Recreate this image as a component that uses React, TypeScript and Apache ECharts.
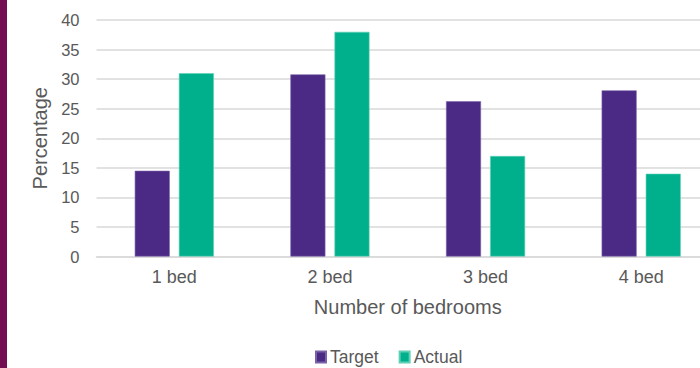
import React, { useEffect, useRef } from "react";
import * as echarts from "echarts";

const categories = ["1 bed", "2 bed", "3 bed", "4 bed"];
const targetValues = [14.5, 30.8, 26.25, 28.1];
const actualValues = [31, 38, 17, 14];
const seriesNames = ["Target", "Actual"];

export default function App() {
  const ref = useRef<HTMLDivElement>(null);
  useEffect(() => {
    if (!ref.current) return;
    const chart = echarts.init(ref.current, undefined, { renderer: "svg" });
    const font = "Liberation Sans, Arial, sans-serif";
    chart.setOption({
      animation: false,
      backgroundColor: "#ffffff",
      textStyle: { fontFamily: font },
      graphic: [
        {
          type: "rect",
          left: 0,
          top: 0,
          shape: { x: 0, y: 0, width: 7, height: 368 },
          style: { fill: "#730c50" },
        },
      ],
      legend: {
        data: seriesNames,
        left: 310,
        top: 346,
        padding: [2, 5, 2, 5],
        itemWidth: 10,
        itemHeight: 11,
        itemGap: 20,
        icon: "rect",
        textStyle: { fontSize: 17.5, color: "#595959", fontFamily: font, padding: [0, 0, 0, -1] },
      },
      grid: { left: 96.5, right: 0, top: 20, bottom: 111.5 },
      xAxis: {
        type: "category",
        data: categories,
        name: "Number of bedrooms",
        nameLocation: "middle",
        nameGap: 40,
        nameTextStyle: { fontSize: 20, color: "#595959", fontFamily: font },
        axisLine: { lineStyle: { color: "#d9d9d9", width: 1.5 } },
        axisTick: { show: false },
        axisLabel: { fontSize: 18, color: "#595959", margin: 11, fontFamily: font },
      },
      yAxis: {
        type: "value",
        min: 0,
        max: 40,
        interval: 5,
        name: "Percentage",
        nameLocation: "middle",
        nameGap: 35,
        nameTextStyle: { fontSize: 20, color: "#595959", fontFamily: font },
        axisLine: { show: false },
        axisTick: { show: false },
        axisLabel: { fontSize: 16.5, color: "#595959", margin: 17, fontFamily: font },
        splitLine: { lineStyle: { color: "#d9d9d9", width: 1.5 } },
      },
      series: [
        {
          name: seriesNames[0],
          type: "bar",
          data: targetValues,
          barWidth: 35,
          barGap: "26%",
          itemStyle: { color: "#4b2a85", borderColor: "#7a62a8", borderWidth: 0.6 },
        },
        {
          name: seriesNames[1],
          type: "bar",
          data: actualValues,
          barWidth: 35,
          barGap: "26%",
          itemStyle: { color: "#00b08d", borderColor: "#5fd0b6", borderWidth: 0.6 },
        },
      ],
    });
    return () => chart.dispose();
  }, []);
  return (
    <div style={{ position: "fixed", left: 0, top: 0, width: 700, height: 368, overflow: "hidden" }}>
      <div ref={ref} style={{ width: 719, height: 368 }} />
    </div>
  );
}
